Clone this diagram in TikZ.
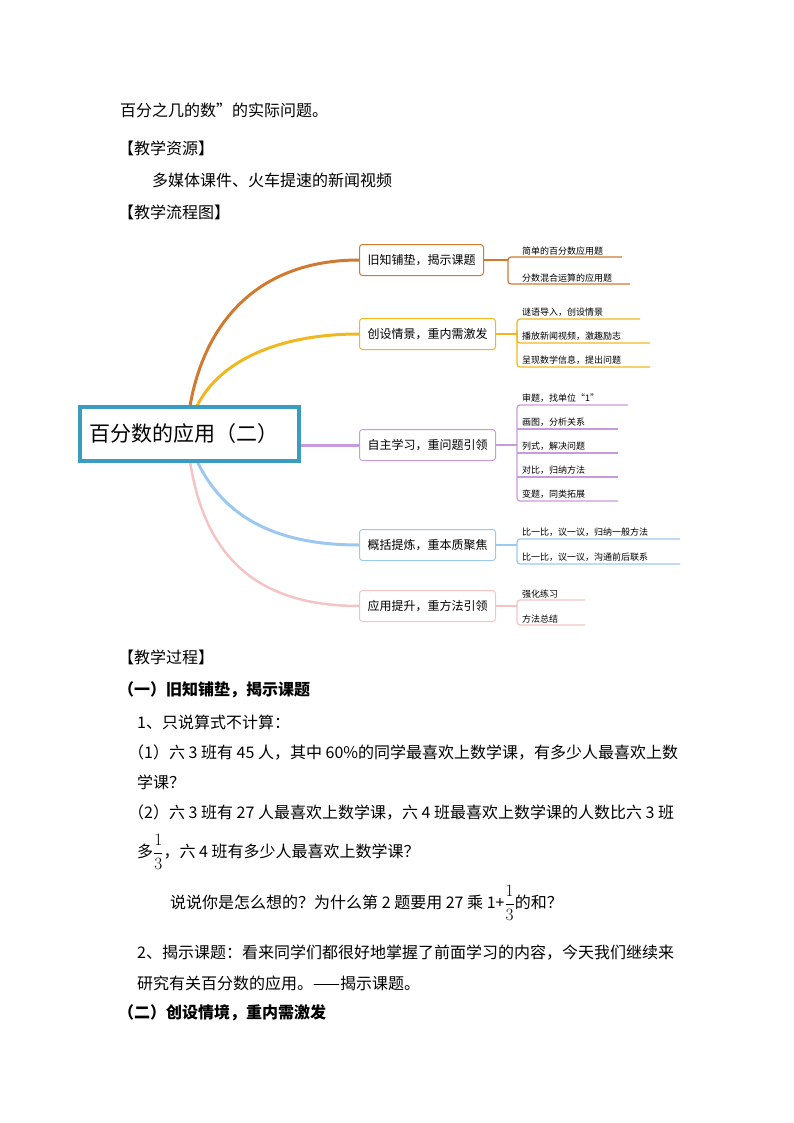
\documentclass[tikz,border=0pt]{standalone}
\usepackage{fontspec}
\setmainfont{Noto Sans CJK SC}
\begin{document}
\begin{tikzpicture}[x=1pt,y=-1pt,
  body/.style={anchor=west,inner sep=0pt,font=\fontsize{16}{18}\selectfont},
  br/.style={draw=#1,rounded corners=3pt,line width=1pt,fill=white,minimum height=31pt,inner xsep=8pt,anchor=west,font=\fontsize{12}{14}\selectfont},
  sub/.style={anchor=south west,inner sep=2pt,font=\fontsize{9}{11}\selectfont},
  ln/.style={draw=#1,line width=1.2pt}]
\useasboundingbox (0,0) rectangle (794,1123);
\definecolor{c1}{HTML}{D07A30}\definecolor{c2}{HTML}{F0B820}\definecolor{c3}{HTML}{C89ADC}
\definecolor{c4}{HTML}{9CC8F0}\definecolor{c5}{HTML}{F4C4C4}\definecolor{cm}{HTML}{3A9CC0}
% text
\node[body] (t0) at (120,110) {百分之几的数”的实际问题。};
\node[body] (t1) at (118,148) {【教学资源】};
\node[body] (t2) at (152,180) {多媒体课件、火车提速的新闻视频};
\node[body] (t3) at (118,212) {【教学流程图】};
% curves
\coordinate (s1) at (190,406);\coordinate (s2) at (197,406);
\coordinate (s4) at (197,461);\coordinate (s5) at (190,461);
\node[br=c1] (b1) at (359,260) {旧知铺垫，揭示课题};
\node[br=c2] (b2) at (359,334) {创设情景，重内需激发};
\node[br=c3] (b3) at (359,445) {自主学习，重问题引领};
\node[br=c4] (b4) at (359,545) {概括提炼，重本质聚焦};
\node[br=c5] (b5) at (359,606) {应用提升，重方法引领};
\draw[c1,line width=3pt] (s1) .. controls (205,320) and (260,260) .. (b1.west);
\draw[c2,line width=3pt] (s2) .. controls (220,360) and (280,334) .. (b2.west);
\draw[c4,line width=3pt] (s4) .. controls (225,520) and (280,545) .. (b4.west);
\draw[c5,line width=2.5pt] (s5) .. controls (205,560) and (260,606) .. (b5.west);
\node[draw=cm,line width=3.5pt,fill=white,minimum width=219pt,minimum height=54pt,anchor=west,inner xsep=10pt,font=\fontsize{21}{24}\selectfont,text width=199pt,align=left] (m) at (78,434) {百分数的应用（二）};
\draw[c3,line width=3pt] (m.east|-b3.west) -- (b3.west);
% branch 1
\draw[ln=c1] (b1.east) -- (508,260) coordinate (k1);
\draw[ln=c1,rounded corners=3pt] (622,257) -- (508,257) -- (508,284) -- (630,284);
\node[sub] (s11) at (520,257) {简单的百分数应用题};
\node[sub] (s12) at (520,284) {分数混合运算的应用题};
% branch 2
\draw[ln=c2] (b2.east) -- (517,334);
\draw[ln=c2,rounded corners=3pt] (640,319) -- (517,319) -- (517,367) -- (650,367);
\draw[ln=c2,rounded corners=3pt] (517,330) -- (517,343) -- (650,343);
\node[sub] (s21) at (520,319) {谜语导入，创设情景};
\node[sub] (s22) at (520,343) {播放新闻视频，激趣励志};
\node[sub] (s23) at (520,367) {呈现数学信息，提出问题};
% branch 3
\draw[ln=c3] (b3.east) -- (517,445);
\draw[ln=c3,rounded corners=3pt] (628,405) -- (517,405) -- (517,501) -- (618,501);
\foreach \y in {429,453,477}{\draw[ln=c3] (517,\y) -- (618,\y);}
\node[sub] (s31) at (520,405) {审题，找单位“1”};
\node[sub] (s32) at (520,429) {画图，分析关系};
\node[sub] (s33) at (520,453) {列式，解决问题};
\node[sub] (s34) at (520,477) {对比，归纳方法};
\node[sub] (s35) at (520,501) {变题，同类拓展};
% branch 4
\draw[ln=c4] (b4.east) -- (517,545);
\draw[ln=c4,rounded corners=3pt] (680,539) -- (517,539) -- (517,564) -- (680,564);
\node[sub] (s41) at (520,539) {比一比，议一议，归纳一般方法};
\node[sub] (s42) at (520,564) {比一比，议一议，沟通前后联系};
% branch 5
\draw[ln=c5] (b5.east) -- (517,606);
\draw[ln=c5,rounded corners=3pt] (585,600) -- (517,600) -- (517,625) -- (585,625);
\node[sub] (s51) at (520,600) {强化练习};
\node[sub] (s52) at (520,625) {方法总结};
% lower text
\node[body] (u1) at (118,657) {【教学过程】};
\node[body,font=\fontsize{16}{18}\selectfont\bfseries] (u2) at (118,690) {（一）旧知铺垫，揭示课题};
\node[body] (u3) at (137,722) {1、只说算式不计算：};
\node[body] (u4) at (128,752) {（1）六 3 班有 45 人，其中 60\%的同学最喜欢上数学课，有多少人最喜欢上数};
\node[body] (u5) at (137,782) {学课？};
\node[body] (u6) at (128,812) {（2）六 3 班有 27 人最喜欢上数学课，六 4 班最喜欢上数学课的人数比六 3 班};
\node[body] (u7) at (137,852) {多$\displaystyle\frac{1}{3}$，六 4 班有多少人最喜欢上数学课？};
\node[body] (u8) at (170,903) {说说你是怎么想的？为什么第 2 题要用 27 乘 1+$\displaystyle\frac{1}{3}$的和？};
\node[body] (u9) at (137,953) {2、揭示课题：看来同学们都很好地掌握了前面学习的内容，今天我们继续来};
\node[body] (u10) at (137,983) {研究有关百分数的应用。——揭示课题。};
\node[body,font=\fontsize{16}{18}\selectfont\bfseries] (u11) at (118,1013) {（二）创设情境，重内需激发};
\end{tikzpicture}
\end{document}
